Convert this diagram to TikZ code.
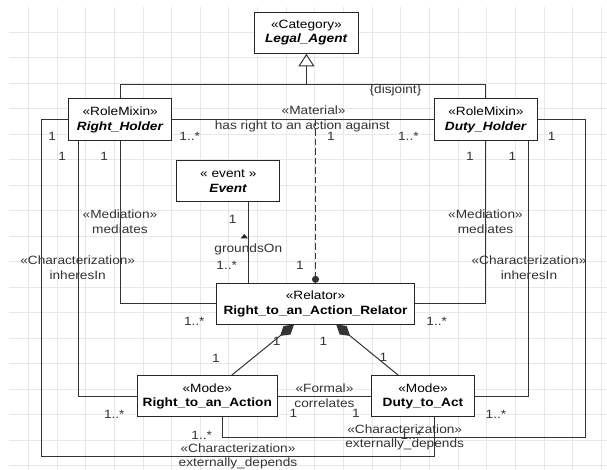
\documentclass[tikz,border=0pt]{standalone}
\usepackage{fontspec}
\setmainfont[FakeStretch=1.14]{Liberation Sans}
\usetikzlibrary{arrows.meta}

\begin{document}
\begin{tikzpicture}[x=1pt, y=-1pt, font=\fontsize{12}{14.5}\selectfont,
  cls/.style={draw=black!85, fill=white, line width=1pt, inner sep=0pt, align=center},
  assoc/.style={draw=black!80, line width=1pt},
  lbl/.style={text=black!80, inner sep=0pt, align=center},
  gridline/.style={draw=black!9, line width=0.8pt}]
  \useasboundingbox (0,0) rectangle (607,470);
  \foreach \i in {0,...,20}
    \draw[gridline] (28.3+28.65*\i,7) -- (28.3+28.65*\i,470);
  \foreach \j in {0,...,17}
    \draw[gridline] (9,32.3+25.5*\j) -- (607,32.3+25.5*\j);

  \node[cls, minimum width=103.4pt, minimum height=41pt] (agent) at (306.4,32.8) {«Category»\\\textbf{\textit{Legal\_Agent}}};
  \node[cls, minimum width=102.6pt, minimum height=41.7pt] (rh) at (120.2,119.85) {«RoleMixin»\\\textbf{\textit{Right\_Holder}}};
  \node[cls, minimum width=103pt, minimum height=41.7pt] (dh) at (485.9,119.85) {«RoleMixin»\\\textbf{\textit{Duty\_Holder}}};
  \node[cls, minimum width=103.3pt, minimum height=41pt] (ev) at (228.3,181.2) {« event »\\\textbf{\textit{Event}}};
  \node[cls, minimum width=197.6pt, minimum height=40.7pt] (rel) at (315.5,303.7) {«Relator»\\\textbf{Right\_to\_an\_Action\_Relator}};
  \node[cls, minimum width=140pt, minimum height=41pt] (rta) at (207.3,396.2) {«Mode»\\\textbf{Right\_to\_an\_Action}};
  \node[cls, minimum width=102.6pt, minimum height=41pt] (dta) at (423,396.2) {«Mode»\\\textbf{Duty\_to\_Act}};

  \coordinate (bar) at (306.4,84.3);
  \draw[assoc] (rh.north) |- (bar) -| (dh.north);
  \draw[assoc, -{Triangle[open, length=12.5pt, width=16pt]}] (bar) -- (agent.south);
  \node[lbl] (disjoint) at (395.5,90.7) {\{disjoint\}};

  \draw[assoc] (rh.east) -- (dh.west);
  \node[lbl] (matst) at (313.6,110.3) {«Material»};
  \node[lbl] (matname) at (302.3,126.7) {has right to an action against};
  \draw[assoc, line width=1.3pt, dash pattern=on 6.5pt off 3pt, -{Circle[length=7pt]}] (rel.north |- rh.east) -- (rel.north);

  \draw[assoc] ([xshift=20pt]ev.south) -- ([xshift=20pt]ev.south |- rel.north);
  \fill[black!85] (240.5,238.5) -- (248,238.5) -- (244.3,234) -- cycle;
  \node[lbl] (grounds) at (248.3,249.3) {groundsOn};

  \draw[assoc] (rel.west) -| (rh.south);
  \draw[assoc] (rel.east) -| (dh.south);
  \draw[assoc] (rta.west) -| ([xshift=-41.6pt]rh.south);
  \draw[assoc] (dta.east) -| ([xshift=43pt]dh.south);
  \node[lbl] (medl) at (120,221.5) {«Mediation»\\mediates};
  \node[lbl] (medr) at (485.5,221.5) {«Mediation»\\mediates};
  \node[lbl] (inhl) at (77.7,267.5) {«Characterization»\\inheresIn};
  \node[lbl] (inhr) at (529,267.5) {«Characterization»\\inheresIn};

  \draw[assoc, {Diamond[length=18pt, width=11pt]}-] ([xshift=-21.5pt]rel.south) -- ([xshift=24.4pt]rta.north);
  \draw[assoc, {Diamond[length=18pt, width=11pt]}-] ([xshift=20.7pt]rel.south) -- ([xshift=-24.7pt]dta.north);

  \draw[assoc] (rta.east) -- (dta.west);
  \node[lbl] (formal) at (324.5,395.8) {«Formal»\\correlates};

  \draw[assoc] (rh.west) -| (41.7,456.7) -| ([xshift=11.3pt]dta.south);
  \draw[assoc] (dh.east) -| (585,437.3) -| ([xshift=15.4pt]rta.south);
  \node[lbl] (extl) at (238,456.5) {«Characterization»\\externally\_depends};
  \node[lbl] (extr) at (404.7,437.5) {«Characterization»\\externally\_depends};

  \node[lbl] (m1) at (189.7,136.7) {1..*};
  \node[lbl] (m2) at (331,136.7) {1};
  \node[lbl] (m3) at (408.4,136.7) {1..*};
  \node[lbl] (m4) at (52.3,136.7) {1};
  \node[lbl] (m5) at (551.7,136.7) {1};
  \node[lbl] (m6) at (62.3,156.7) {1};
  \node[lbl] (m7) at (104.3,156.7) {1};
  \node[lbl] (m8) at (470,156.7) {1};
  \node[lbl] (m9) at (512.3,156.7) {1};
  \node[lbl] (m10) at (232.7,219) {1};
  \node[lbl] (m11) at (226.7,265.7) {1..*};
  \node[lbl] (m12) at (300,265.7) {1};
  \node[lbl] (m13) at (194.3,321.7) {1..*};
  \node[lbl] (m14) at (436.7,321.7) {1..*};
  \node[lbl] (m15) at (276.7,341.7) {1};
  \node[lbl] (m16) at (216,358.3) {1};
  \node[lbl] (m17) at (323.3,341.7) {1};
  \node[lbl] (m18) at (383.3,357.5) {1};
  \node[lbl] (m19) at (114.3,414.3) {1..*};
  \node[lbl] (m20) at (496,414.3) {1..*};
  \node[lbl] (m21) at (293.3,413.3) {1};
  \node[lbl] (m22) at (356,413.3) {1};
  \node[lbl] (m23) at (201.7,435) {1..*};
  \node[lbl] (m24) at (411,435) {1..*};
\end{tikzpicture}
\end{document}
